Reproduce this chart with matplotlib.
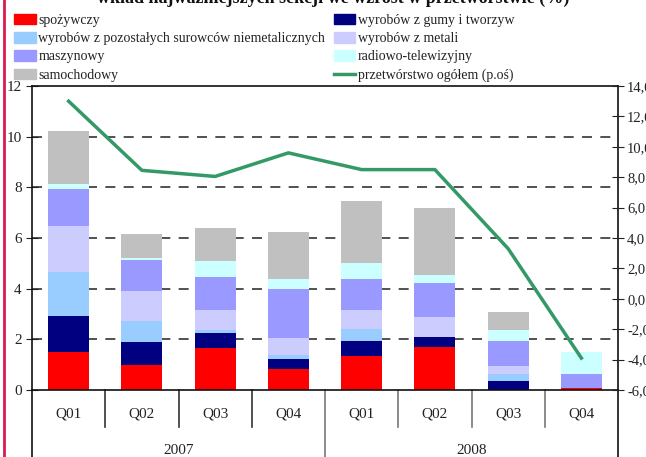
import numpy as np
import matplotlib.pyplot as plt
from matplotlib.lines import Line2D
from matplotlib.patches import Patch

plt.rcParams['font.family'] = ['Liberation Serif', 'DejaVu Serif']

quarters = ["Q01", "Q02", "Q03", "Q04", "Q01", "Q02", "Q03", "Q04"]
years = ["2007", "2008"]

# contributions (pp), stacked bottom -> top
spozywczy = [1.51, 0.99, 1.66, 0.83, 1.35, 1.70, 0.00, 0.07]
gumy = [1.41, 0.92, 0.59, 0.39, 0.58, 0.39, 0.36, 0.00]
niemetal = [1.74, 0.81, 0.12, 0.16, 0.48, 0.00, 0.28, 0.00]
metali = [1.81, 1.19, 0.79, 0.67, 0.75, 0.79, 0.31, 0.00]
maszynowy = [1.46, 1.22, 1.30, 1.93, 1.22, 1.34, 0.98, 0.55]
radiotv = [0.20, 0.09, 0.63, 0.40, 0.63, 0.32, 0.44, 0.87]
samochodowy = [2.09, 0.94, 1.30, 1.86, 2.45, 2.64, 0.71, 0.00]
ogolem = [13.0, 8.45, 8.05, 9.6, 8.5, 8.5, 3.3, -3.9]

series = [
    ("spożywczy", spozywczy, "#ff0000"),
    ("wyrobów z gumy i tworzyw", gumy, "#000080"),
    ("wyrobów z pozostałych surowców niemetalicznych", niemetal, "#99ccff"),
    ("wyrobów z metali", metali, "#ccccff"),
    ("maszynowy", maszynowy, "#9999ff"),
    ("radiowo-telewizyjny", radiotv, "#ccffff"),
    ("samochodowy", samochodowy, "#c0c0c0"),
]
line_label = "przetwórstwo ogółem (p.oś)"
line_color = "#339966"

fig = plt.figure(figsize=(6.46, 4.57), dpi=100)
ax = fig.add_axes([32 / 646, 1 - 390 / 457, (618 - 32) / 646, (390 - 86) / 457])

x = np.arange(len(quarters))
bottom = np.zeros(len(quarters))
for name, vals, col in series:
    ax.bar(x, vals, width=0.56, bottom=bottom, color=col, zorder=2)
    bottom += np.array(vals)

ax.set_xlim(-0.5, 7.5)
ax.set_ylim(0, 12)
ax.set_yticks(range(0, 13, 2))
for v in range(2, 12, 2):
    ax.axhline(v, color="#333333", lw=1.2, ls=(0, (6, 5)), zorder=1)
ax.tick_params(axis="y", direction="inout", length=9, labelsize=11, colors="#222222", pad=3)
ax.set_xticks([])
for s in ["left", "right", "top", "bottom"]:
    ax.spines[s].set_linewidth(1.2)
    ax.spines[s].set_color("#111111")

# category axis below
trans = ax.get_xaxis_transform()
depth_q = -(427 - 390) / 304
depth_y = -(457 - 390) / 304
for b in np.arange(0.5, 7.5, 1.0):
    d = depth_y if b == 3.5 else depth_q
    ax.plot([b, b], [0, d], color="#333333" if b < 3.5 else "#777777", lw=1.2,
            transform=trans, clip_on=False)
for b in [-0.5, 7.5]:
    ax.plot([b, b], [0, depth_y - 0.05], color="#111111", lw=1.2,
            transform=trans, clip_on=False)
for i, q in enumerate(quarters):
    ax.text(i, -(414 - 390) / 304, q, transform=trans, ha="center", va="center",
            fontsize=11, color="#222222")
for j, yr in enumerate(years):
    ax.text(1.5 + 4 * j, -(450 - 390) / 304, yr, transform=trans, ha="center",
            va="center", fontsize=11, color="#222222")

ax2 = ax.twinx()
ax2.plot(x, ogolem, color=line_color, lw=2.5, zorder=3)
ax2.set_ylim(-6, 14)
ax2.set_yticks(range(-6, 15, 2))
ax2.set_yticklabels([f"{v},0" for v in range(-6, 15, 2)])
ax2.tick_params(axis="y", direction="inout", length=9, labelsize=10.5, colors="#222222", pad=2)
for s in ax2.spines.values():
    s.set_visible(False)

# legend
handles = []
order = [0, 2, 4, 6, 1, 3, 5]
for k in order:
    handles.append(Patch(color=series[k][2], label=series[k][0]))
handles.append(Line2D([], [], color=line_color, lw=2.5, label=line_label))
fig.legend(handles=handles, ncol=2, loc="upper left", bbox_to_anchor=(14 / 646, 1 - 13.5 / 457),
           frameon=False, fontsize=10, handlelength=1.55, handleheight=0.8,
           handletextpad=0.2, columnspacing=0.6, labelspacing=0.38,
           borderaxespad=0, borderpad=0, labelcolor="#222222")

fig.text(0.515, 1 - 3 / 457, "wkład najważniejszych sekcji we wzrost w przetwórstwie (%)",
         ha="center", va="baseline", fontsize=13, fontweight="bold", color="#111111")

# left page border
fig.add_artist(Line2D([4 / 646, 4 / 646], [0, 1], transform=fig.transFigure,
                      color="#d81b50", lw=2))

fig.savefig("out.png", dpi=100)
